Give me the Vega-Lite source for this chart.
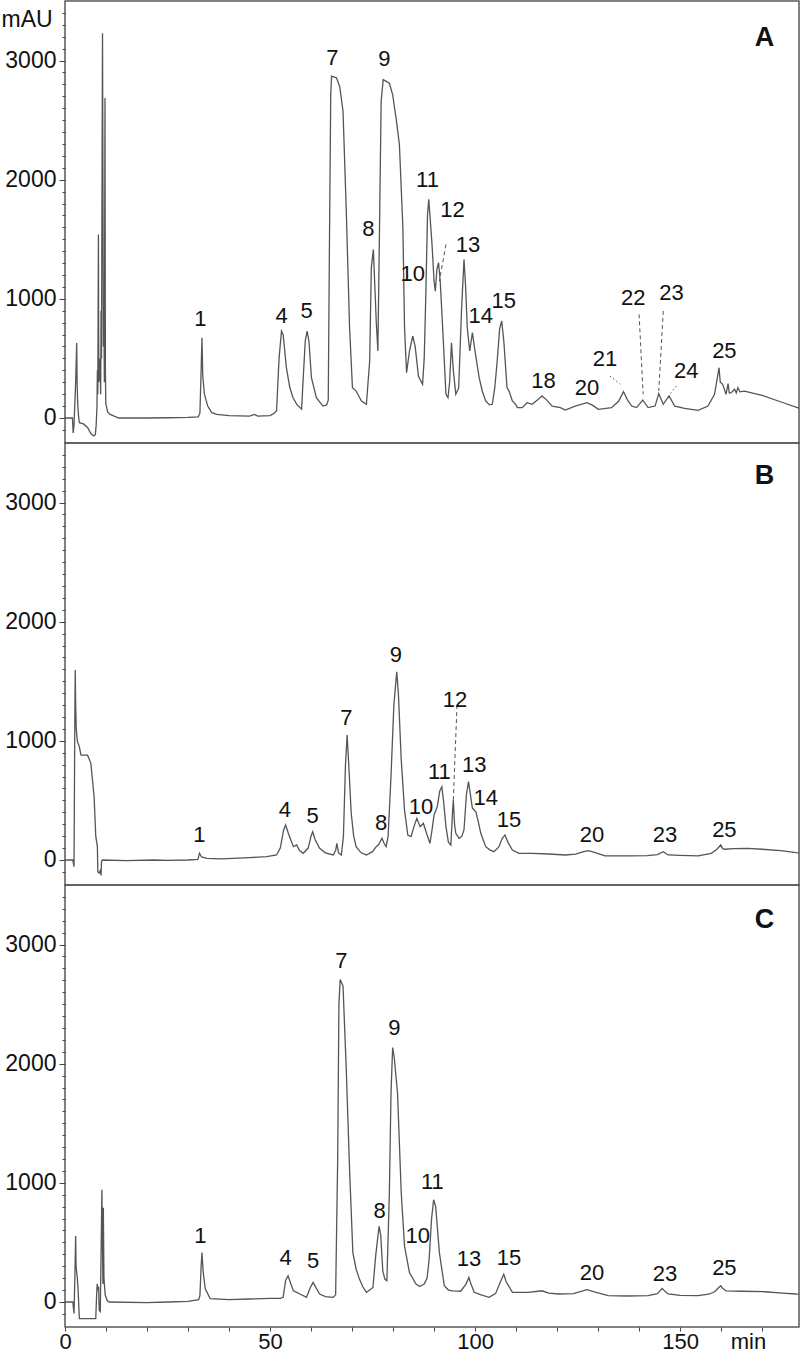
{
  "$schema": "https://vega.github.io/schema/vega-lite/v6.json",
  "padding": 0,
  "spacing": 0,
  "bounds": "flush",
  "background": "white",
  "config": {
    "font": "Liberation Sans",
    "view": {"stroke": "#5a5a5a", "strokeWidth": 1.5},
    "concat": {"spacing": 0},
    "axis": {"grid": false, "domain": false, "labelColor": "#111", "tickColor": "#444", "labelFont": "Liberation Sans", "titleFont": "Liberation Sans", "titleColor": "#111"}
  },
  "datasets": {
    "curveA": [
      {"t":0,"v":0},{"t":1.8,"v":0},{"t":2.0,"v":-125},{"t":2.2,"v":-60},{"t":2.6,"v":300},{"t":2.85,"v":630},{"t":2.95,"v":300},{"t":3.1,"v":117},{"t":3.3,"v":20},{"t":3.5,"v":-40},{"t":4.5,"v":-50},{"t":5.5,"v":-80},{"t":6.3,"v":-130},{"t":7.0,"v":-150},{"t":7.4,"v":-140},{"t":7.6,"v":-60},{"t":7.8,"v":100},{"t":7.9,"v":400},{"t":8.0,"v":200},{"t":8.15,"v":1540},{"t":8.25,"v":300},{"t":8.4,"v":350},{"t":8.55,"v":500},{"t":8.7,"v":200},{"t":8.8,"v":900},{"t":8.9,"v":500},{"t":9.05,"v":2200},{"t":9.15,"v":3230},{"t":9.25,"v":2000},{"t":9.35,"v":600},{"t":9.5,"v":800},{"t":9.6,"v":300},{"t":9.75,"v":2685},{"t":9.85,"v":400},{"t":9.95,"v":120},{"t":10.4,"v":50},{"t":11,"v":30},{"t":12,"v":15},{"t":13.1,"v":0},{"t":20,"v":0},{"t":25,"v":2},{"t":30,"v":5},{"t":32.5,"v":10},{"t":32.9,"v":40},{"t":33.2,"v":400},{"t":33.4,"v":674},{"t":33.6,"v":350},{"t":34.0,"v":200},{"t":34.8,"v":100},{"t":35.8,"v":45},{"t":37,"v":30},{"t":40,"v":20},{"t":45,"v":15},{"t":46.2,"v":30},{"t":47,"v":15},{"t":50,"v":20},{"t":51,"v":40},{"t":51.6,"v":60},{"t":52.2,"v":500},{"t":52.8,"v":730},{"t":53.2,"v":700},{"t":54.0,"v":420},{"t":54.8,"v":260},{"t":55.6,"v":170},{"t":56.6,"v":110},{"t":57.7,"v":75},{"t":58.1,"v":338},{"t":58.6,"v":650},{"t":59.05,"v":730},{"t":59.5,"v":640},{"t":60.1,"v":338},{"t":61.3,"v":170},{"t":62.9,"v":100},{"t":63.8,"v":110},{"t":64.2,"v":150},{"t":64.5,"v":1500},{"t":64.8,"v":2700},{"t":65.0,"v":2870},{"t":66.2,"v":2855},{"t":67.0,"v":2780},{"t":67.8,"v":2575},{"t":68.6,"v":1736},{"t":69.4,"v":757},{"t":70.1,"v":254},{"t":71.0,"v":226},{"t":72.3,"v":143},{"t":73.5,"v":115},{"t":74.3,"v":478},{"t":74.7,"v":1260},{"t":75.2,"v":1415},{"t":75.9,"v":814},{"t":76.3,"v":562},{"t":76.7,"v":1596},{"t":77.1,"v":2660},{"t":77.6,"v":2840},{"t":79.1,"v":2810},{"t":79.9,"v":2715},{"t":80.8,"v":2500},{"t":81.55,"v":2296},{"t":82.4,"v":1596},{"t":82.8,"v":757},{"t":83.3,"v":380},{"t":84.0,"v":560},{"t":84.8,"v":688},{"t":85.4,"v":600},{"t":86.2,"v":350},{"t":87.2,"v":283},{"t":87.6,"v":500},{"t":88.0,"v":1040},{"t":88.4,"v":1700},{"t":88.7,"v":1835},{"t":89.0,"v":1700},{"t":89.5,"v":1460},{"t":90.0,"v":1150},{"t":90.3,"v":1065},{"t":90.7,"v":1250},{"t":91.1,"v":1303},{"t":91.5,"v":1150},{"t":92.1,"v":757},{"t":92.9,"v":200},{"t":93.4,"v":170},{"t":93.8,"v":300},{"t":94.25,"v":632},{"t":94.7,"v":400},{"t":95.3,"v":200},{"t":96.0,"v":250},{"t":96.7,"v":900},{"t":97.3,"v":1331},{"t":97.7,"v":1100},{"t":98.1,"v":757},{"t":98.7,"v":562},{"t":99.35,"v":716},{"t":100.0,"v":560},{"t":101.0,"v":338},{"t":101.8,"v":220},{"t":102.6,"v":143},{"t":103.5,"v":110},{"t":104.2,"v":115},{"t":104.8,"v":250},{"t":105.4,"v":478},{"t":106.0,"v":750},{"t":106.5,"v":814},{"t":107.0,"v":650},{"t":107.8,"v":254},{"t":108.3,"v":226},{"t":109.1,"v":143},{"t":109.9,"v":115},{"t":110.3,"v":87},{"t":111.5,"v":87},{"t":112.7,"v":128},{"t":113.9,"v":115},{"t":115.2,"v":150},{"t":116.3,"v":185},{"t":117.5,"v":150},{"t":118.8,"v":100},{"t":120.8,"v":87},{"t":122.0,"v":67},{"t":124.4,"v":100},{"t":127.3,"v":128},{"t":128.5,"v":110},{"t":130.1,"v":73},{"t":133.3,"v":87},{"t":135.0,"v":140},{"t":136.2,"v":221},{"t":137.2,"v":150},{"t":138.2,"v":100},{"t":139.4,"v":87},{"t":140.9,"v":151},{"t":142.2,"v":87},{"t":143.9,"v":100},{"t":144.8,"v":204},{"t":145.9,"v":115},{"t":147.3,"v":185},{"t":148.7,"v":100},{"t":151.1,"v":81},{"t":154.4,"v":64},{"t":156.8,"v":100},{"t":158.4,"v":198},{"t":159.3,"v":380},{"t":159.5,"v":422},{"t":159.8,"v":300},{"t":160.4,"v":283},{"t":161.2,"v":198},{"t":161.7,"v":288},{"t":162.0,"v":210},{"t":162.5,"v":212},{"t":163.3,"v":241},{"t":163.7,"v":210},{"t":164.1,"v":254},{"t":164.6,"v":220},{"t":165.7,"v":226},{"t":170,"v":190},{"t":175,"v":130},{"t":178.6,"v":87},{"t":179,"v":82}
    ],
    "curveB": [
      {"t":0,"v":0},{"t":1.9,"v":0},{"t":2.2,"v":-56},{"t":2.4,"v":1200},{"t":2.5,"v":1594},{"t":2.6,"v":1300},{"t":2.75,"v":1100},{"t":3.0,"v":1000},{"t":3.5,"v":950},{"t":3.9,"v":880},{"t":5.5,"v":880},{"t":6.3,"v":813},{"t":7.1,"v":531},{"t":7.5,"v":200},{"t":7.9,"v":112},{"t":8.0,"v":-98},{"t":8.3,"v":-110},{"t":8.6,"v":-90},{"t":8.8,"v":-130},{"t":8.9,"v":-14},{"t":9.1,"v":0},{"t":15,"v":-5},{"t":21.6,"v":0},{"t":25,"v":-3},{"t":30,"v":0},{"t":32.4,"v":5},{"t":32.8,"v":56},{"t":33.3,"v":25},{"t":34.6,"v":14},{"t":38,"v":10},{"t":41,"v":14},{"t":45,"v":20},{"t":49.2,"v":28},{"t":51.6,"v":42},{"t":52.5,"v":100},{"t":53.3,"v":250},{"t":53.8,"v":294},{"t":54.5,"v":220},{"t":55.7,"v":112},{"t":56.5,"v":126},{"t":57.2,"v":80},{"t":58.1,"v":56},{"t":59.3,"v":100},{"t":60.0,"v":200},{"t":60.4,"v":237},{"t":61.0,"v":170},{"t":62.1,"v":98},{"t":63.5,"v":60},{"t":65.4,"v":42},{"t":66.0,"v":80},{"t":66.3,"v":140},{"t":66.7,"v":60},{"t":67.4,"v":42},{"t":67.9,"v":200},{"t":68.4,"v":800},{"t":68.8,"v":1049},{"t":69.2,"v":800},{"t":69.8,"v":392},{"t":70.4,"v":200},{"t":71.0,"v":112},{"t":72.2,"v":60},{"t":73.5,"v":42},{"t":75.0,"v":70},{"t":75.9,"v":112},{"t":76.5,"v":130},{"t":77.3,"v":182},{"t":77.8,"v":140},{"t":78.3,"v":112},{"t":78.8,"v":200},{"t":79.5,"v":700},{"t":80.2,"v":1300},{"t":80.9,"v":1580},{"t":81.3,"v":1400},{"t":82.0,"v":839},{"t":82.8,"v":419},{"t":83.6,"v":210},{"t":84.4,"v":196},{"t":85.1,"v":280},{"t":85.8,"v":350},{"t":86.6,"v":280},{"t":87.4,"v":308},{"t":88.2,"v":220},{"t":89.0,"v":140},{"t":89.5,"v":250},{"t":90.0,"v":378},{"t":90.8,"v":450},{"t":91.4,"v":580},{"t":91.9,"v":615},{"t":92.3,"v":500},{"t":92.9,"v":280},{"t":93.5,"v":150},{"t":94.1,"v":126},{"t":94.5,"v":400},{"t":94.7,"v":503},{"t":95.0,"v":300},{"t":95.3,"v":224},{"t":96.1,"v":182},{"t":96.8,"v":200},{"t":97.3,"v":252},{"t":97.9,"v":550},{"t":98.4,"v":657},{"t":98.9,"v":540},{"t":99.35,"v":434},{"t":100.2,"v":405},{"t":100.8,"v":320},{"t":101.4,"v":224},{"t":102.6,"v":112},{"t":103.6,"v":85},{"t":104.6,"v":70},{"t":105.8,"v":110},{"t":106.6,"v":180},{"t":107.3,"v":210},{"t":108.0,"v":150},{"t":109.1,"v":84},{"t":110.7,"v":56},{"t":113.9,"v":56},{"t":118,"v":50},{"t":122.0,"v":42},{"t":124.5,"v":50},{"t":126.5,"v":70},{"t":127.7,"v":78},{"t":129.5,"v":60},{"t":131.7,"v":34},{"t":135,"v":34},{"t":138.2,"v":34},{"t":142,"v":36},{"t":144.5,"v":45},{"t":145.9,"v":70},{"t":147.1,"v":42},{"t":150,"v":38},{"t":154.4,"v":34},{"t":157.6,"v":56},{"t":159.0,"v":90},{"t":159.9,"v":126},{"t":160.4,"v":95},{"t":160.8,"v":90},{"t":163,"v":95},{"t":166.5,"v":98},{"t":170,"v":90},{"t":174.6,"v":78},{"t":178.2,"v":62},{"t":179,"v":60}
    ],
    "curveC": [
      {"t":0,"v":0},{"t":1.9,"v":0},{"t":2.2,"v":-97},{"t":2.4,"v":200},{"t":2.6,"v":553},{"t":2.7,"v":300},{"t":2.85,"v":250},{"t":3.0,"v":200},{"t":3.2,"v":100},{"t":3.5,"v":-140},{"t":5.5,"v":-140},{"t":7.5,"v":-140},{"t":7.7,"v":50},{"t":7.85,"v":153},{"t":8.0,"v":100},{"t":8.2,"v":130},{"t":8.35,"v":-70},{"t":8.6,"v":-80},{"t":8.8,"v":400},{"t":9.0,"v":942},{"t":9.1,"v":600},{"t":9.25,"v":150},{"t":9.35,"v":790},{"t":9.5,"v":200},{"t":9.8,"v":60},{"t":10.3,"v":10},{"t":10.8,"v":0},{"t":20,"v":-5},{"t":25,"v":0},{"t":30,"v":5},{"t":32.6,"v":20},{"t":32.9,"v":53},{"t":33.2,"v":300},{"t":33.4,"v":414},{"t":33.7,"v":250},{"t":34.2,"v":111},{"t":35.4,"v":28},{"t":40,"v":20},{"t":45,"v":25},{"t":50,"v":30},{"t":52.5,"v":30},{"t":53.2,"v":39},{"t":53.8,"v":180},{"t":54.4,"v":219},{"t":55.0,"v":160},{"t":55.7,"v":94},{"t":56.5,"v":80},{"t":57.3,"v":67},{"t":58.9,"v":39},{"t":59.8,"v":120},{"t":60.5,"v":164},{"t":61.2,"v":120},{"t":62.1,"v":67},{"t":63.5,"v":45},{"t":65.4,"v":39},{"t":66.0,"v":60},{"t":66.5,"v":1200},{"t":66.8,"v":2500},{"t":67.1,"v":2706},{"t":67.8,"v":2653},{"t":68.6,"v":1944},{"t":69.4,"v":1110},{"t":70.2,"v":414},{"t":71.0,"v":275},{"t":71.8,"v":192},{"t":72.6,"v":130},{"t":73.5,"v":81},{"t":74.3,"v":100},{"t":75.1,"v":122},{"t":75.8,"v":400},{"t":76.6,"v":636},{"t":77.0,"v":560},{"t":77.5,"v":260},{"t":78.0,"v":192},{"t":78.5,"v":178},{"t":79.1,"v":914},{"t":79.5,"v":1750},{"t":79.9,"v":2136},{"t":80.3,"v":2050},{"t":81.1,"v":1748},{"t":82.0,"v":914},{"t":82.8,"v":469},{"t":84.0,"v":247},{"t":85.6,"v":150},{"t":86.5,"v":130},{"t":87.6,"v":150},{"t":88.3,"v":200},{"t":88.8,"v":358},{"t":89.4,"v":700},{"t":89.9,"v":858},{"t":90.4,"v":800},{"t":91.3,"v":414},{"t":92.5,"v":136},{"t":93.5,"v":100},{"t":94.5,"v":94},{"t":96.5,"v":90},{"t":97.8,"v":150},{"t":98.5,"v":206},{"t":99.0,"v":150},{"t":99.8,"v":81},{"t":101.5,"v":60},{"t":103.4,"v":39},{"t":105.0,"v":70},{"t":106.2,"v":170},{"t":107.0,"v":233},{"t":107.6,"v":170},{"t":109.1,"v":81},{"t":110.7,"v":81},{"t":113,"v":80},{"t":116.3,"v":94},{"t":118,"v":75},{"t":120.4,"v":67},{"t":124,"v":70},{"t":127.3,"v":103},{"t":129.5,"v":80},{"t":132.5,"v":53},{"t":137,"v":50},{"t":142.2,"v":53},{"t":144.5,"v":70},{"t":145.6,"v":114},{"t":146.3,"v":90},{"t":147.1,"v":67},{"t":150,"v":55},{"t":154.4,"v":53},{"t":157,"v":65},{"t":158.4,"v":86},{"t":159.9,"v":136},{"t":160.5,"v":110},{"t":161.2,"v":94},{"t":165,"v":90},{"t":170.6,"v":86},{"t":175,"v":75},{"t":178.2,"v":67},{"t":179,"v":66}
    ],
    "labA": [
      {"lab":"1","t":33.0,"v":830},{"lab":"4","t":52.8,"v":856},{"lab":"5","t":58.9,"v":898},{"lab":"7","t":65.2,"v":3023},{"lab":"8","t":74.0,"v":1585},{"lab":"9","t":77.9,"v":3012},{"lab":"10","t":84.8,"v":1208},{"lab":"11","t":88.4,"v":1998},{"lab":"12","t":94.5,"v":1745},{"lab":"13","t":98.3,"v":1449},{"lab":"14","t":101.4,"v":856},{"lab":"15","t":107.0,"v":982},{"lab":"18","t":116.7,"v":310},{"lab":"20","t":127.3,"v":254},{"lab":"21","t":131.7,"v":492},{"lab":"22","t":138.6,"v":1010},{"lab":"23","t":147.9,"v":1049},{"lab":"24","t":151.5,"v":394},{"lab":"25","t":160.8,"v":562}
    ],
    "labB": [
      {"lab":"1","t":32.8,"v":210},{"lab":"4","t":53.6,"v":420},{"lab":"5","t":60.4,"v":369},{"lab":"7","t":68.6,"v":1189},{"lab":"8","t":77.1,"v":308},{"lab":"9","t":80.7,"v":1720},{"lab":"10","t":86.8,"v":447},{"lab":"11","t":91.3,"v":741},{"lab":"12","t":95.1,"v":1342},{"lab":"13","t":99.8,"v":797},{"lab":"14","t":102.6,"v":518},{"lab":"15","t":108.3,"v":336},{"lab":"20","t":128.5,"v":210},{"lab":"23","t":146.3,"v":210},{"lab":"25","t":160.8,"v":252}
    ],
    "labC": [
      {"lab":"1","t":33.0,"v":553},{"lab":"4","t":53.8,"v":372},{"lab":"5","t":60.5,"v":344},{"lab":"7","t":67.4,"v":2858},{"lab":"8","t":76.7,"v":761},{"lab":"9","t":80.3,"v":2303},{"lab":"10","t":86.0,"v":553},{"lab":"11","t":89.6,"v":1011},{"lab":"13","t":98.5,"v":358},{"lab":"15","t":108.3,"v":372},{"lab":"20","t":128.5,"v":247},{"lab":"23","t":146.3,"v":233},{"lab":"25","t":160.8,"v":289}
    ],
    "dashA": [
      {"t":92.9,"v":1457,"t2":91.3,"v2":1149},{"t":140.0,"v":870,"t2":141.0,"v2":199},{"t":145.9,"v":898,"t2":144.8,"v2":227}
    ],
    "dotA": [
      {"t":132.9,"v":352,"t2":135.4,"v2":283},{"t":149.1,"v":268,"t2":147.5,"v2":199}
    ],
    "dashB": [
      {"t":95.6,"v":1300,"t2":94.7,"v2":503}
    ],
    "letterA": [{"lab":"A","t":170.6,"v":3190}],
    "letterB": [{"lab":"B","t":170.6,"v":3220}],
    "letterC": [{"lab":"C","t":170.6,"v":3210}]
  },
  "vconcat": [
    {
      "width": 734, "height": 442,
      "encoding": {
        "x": {"field": "t", "type": "quantitative", "scale": {"domain": [0, 179], "nice": false, "zero": false}, "axis": null},
        "y": {"field": "v", "type": "quantitative", "scale": {"domain": [-210, 3500], "nice": false, "zero": false},
          "axis": {"values": [-100,0,100,200,300,400,500,600,700,800,900,1000,1100,1200,1300,1400,1500,1600,1700,1800,1900,2000,2100,2200,2300,2400,2500,2600,2700,2800,2900,3000,3100,3200,3300,3400],
            "format": "d", "labelExpr": "datum.value % 1000 === 0 ? datum.label : ''", "labelOverlap": false, "labelFlush": false,
            "labelFontSize": 23, "labelPadding": 3,
            "tickSize": {"condition": {"test": "datum.value % 1000 === 0", "value": 6}, "value": 3},
            "title": "mAU", "titleAngle": 0, "titleX": -64, "titleY": 18, "titleAlign": "left", "titleBaseline": "middle", "titleFontSize": 23, "titleFontWeight": "normal"}}
      },
      "layer": [
        {"data": {"name": "curveA"}, "mark": {"type": "line", "stroke": "#555555", "strokeWidth": 1.3, "clip": true}},
        {"data": {"name": "dashA"}, "mark": {"type": "rule", "stroke": "#555", "strokeWidth": 1, "strokeDash": [4, 3]}, "encoding": {"x2": {"field": "t2"}, "y2": {"field": "v2"}}},
        {"data": {"name": "dotA"}, "mark": {"type": "rule", "stroke": "#555", "strokeWidth": 1, "strokeDash": [1.5, 2.5]}, "encoding": {"x2": {"field": "t2"}, "y2": {"field": "v2"}}},
        {"data": {"name": "labA"}, "mark": {"type": "text", "fontSize": 22, "color": "#111", "align": "center", "baseline": "middle"}, "encoding": {"text": {"field": "lab"}}},
        {"data": {"name": "letterA"}, "mark": {"type": "text", "fontSize": 27, "fontWeight": "bold", "color": "#111", "align": "center", "baseline": "middle"}, "encoding": {"text": {"field": "lab"}}}
      ]
    },
    {
      "width": 734, "height": 442,
      "encoding": {
        "x": {"field": "t", "type": "quantitative", "scale": {"domain": [0, 179], "nice": false, "zero": false}, "axis": null},
        "y": {"field": "v", "type": "quantitative", "scale": {"domain": [-210, 3500], "nice": false, "zero": false},
          "axis": {"values": [-100,0,100,200,300,400,500,600,700,800,900,1000,1100,1200,1300,1400,1500,1600,1700,1800,1900,2000,2100,2200,2300,2400,2500,2600,2700,2800,2900,3000,3100,3200,3300,3400],
            "format": "d", "labelExpr": "datum.value % 1000 === 0 ? datum.label : ''", "labelOverlap": false, "labelFlush": false,
            "labelFontSize": 23, "labelPadding": 3,
            "tickSize": {"condition": {"test": "datum.value % 1000 === 0", "value": 6}, "value": 3},
            "title": null}}
      },
      "layer": [
        {"data": {"name": "curveB"}, "mark": {"type": "line", "stroke": "#555555", "strokeWidth": 1.3, "clip": true}},
        {"data": {"name": "dashB"}, "mark": {"type": "rule", "stroke": "#555", "strokeWidth": 1, "strokeDash": [4, 3]}, "encoding": {"x2": {"field": "t2"}, "y2": {"field": "v2"}}},
        {"data": {"name": "labB"}, "mark": {"type": "text", "fontSize": 22, "color": "#111", "align": "center", "baseline": "middle"}, "encoding": {"text": {"field": "lab"}}},
        {"data": {"name": "letterB"}, "mark": {"type": "text", "fontSize": 27, "fontWeight": "bold", "color": "#111", "align": "center", "baseline": "middle"}, "encoding": {"text": {"field": "lab"}}}
      ]
    },
    {
      "width": 734, "height": 442,
      "encoding": {
        "x": {"field": "t", "type": "quantitative", "scale": {"domain": [0, 179], "nice": false, "zero": false},
          "axis": {"values": [0,10,20,30,40,50,60,70,80,90,100,110,120,130,140,150,160,170],
            "labelExpr": "datum.value % 50 === 0 ? datum.label : ''", "labelOverlap": false, "labelFlush": false,
            "labelFontSize": 22, "labelPadding": 0, "tickSize": 4,
            "title": "min", "titleX": 683, "titleY": 4, "titleAlign": "center", "titleBaseline": "top", "titleFontSize": 22, "titleFontWeight": "normal"}},
        "y": {"field": "v", "type": "quantitative", "scale": {"domain": [-210, 3500], "nice": false, "zero": false},
          "axis": {"values": [-100,0,100,200,300,400,500,600,700,800,900,1000,1100,1200,1300,1400,1500,1600,1700,1800,1900,2000,2100,2200,2300,2400,2500,2600,2700,2800,2900,3000,3100,3200,3300,3400],
            "format": "d", "labelExpr": "datum.value % 1000 === 0 ? datum.label : ''", "labelOverlap": false, "labelFlush": false,
            "labelFontSize": 23, "labelPadding": 3,
            "tickSize": {"condition": {"test": "datum.value % 1000 === 0", "value": 6}, "value": 3},
            "title": null}}
      },
      "layer": [
        {"data": {"name": "curveC"}, "mark": {"type": "line", "stroke": "#555555", "strokeWidth": 1.3, "clip": true}},
        {"data": {"name": "labC"}, "mark": {"type": "text", "fontSize": 22, "color": "#111", "align": "center", "baseline": "middle"}, "encoding": {"text": {"field": "lab"}}},
        {"data": {"name": "letterC"}, "mark": {"type": "text", "fontSize": 27, "fontWeight": "bold", "color": "#111", "align": "center", "baseline": "middle"}, "encoding": {"text": {"field": "lab"}}}
      ]
    }
  ]
}
